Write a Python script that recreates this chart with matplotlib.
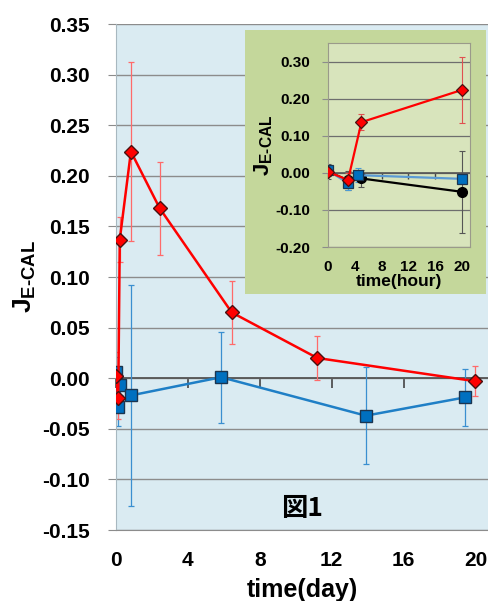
import matplotlib
matplotlib.use("Agg")
import matplotlib.pyplot as plt
from matplotlib.patches import Rectangle

plt.rcParams["font.family"] = ["Liberation Sans", "DejaVu Sans"]
plt.rcParams["font.weight"] = "bold"
plt.rcParams["axes.labelweight"] = "bold"
plt.rcParams["mathtext.fontset"] = "custom"
plt.rcParams["mathtext.bf"] = "Liberation Sans:bold"
plt.rcParams["mathtext.rm"] = "Liberation Sans:bold"

# main chart (days)
red_day = [0, 0.125, 0.21, 0.83, 2.43, 6.44, 11.2, 20.0]
red_val = [0.002, -0.020, 0.137, 0.224, 0.168, 0.065, 0.020, -0.003]
red_err = [0.024, 0.020, 0.022, 0.088, 0.046, 0.031, 0.022, 0.015]

blue_day = [0, 0.125, 0.22, 0.83, 5.85, 13.9, 19.4]
blue_val = [0.006, -0.028, -0.007, -0.017, 0.001, -0.037, -0.019]
blue_err = [0.015, 0.019, 0.010, 0.109, 0.045, 0.048, 0.028]

day_ticks = [0, 4, 8, 12, 16, 20]
y_ticks = [-0.15, -0.10, -0.05, 0.00, 0.05, 0.10, 0.15, 0.20, 0.25, 0.30, 0.35]

# inset (hours)
red_hr = [0, 3, 5, 20]
red_hr_val = [0.003, -0.019, 0.137, 0.224]
red_hr_err = [0.010, 0.020, 0.021, 0.088]

blue_hr = [0, 3, 4.5, 20]
blue_hr_val = [0.007, -0.028, -0.006, -0.016]
blue_hr_err = [0.015, 0.018, 0.018, 0.010]

black_hr = [0, 3, 5, 20]
black_hr_val = [0.004, -0.020, -0.015, -0.051]
black_hr_err = [0.020, 0.025, 0.024, 0.110]

hour_ticks = [0, 4, 8, 12, 16, 20]
inset_y_ticks = [-0.20, -0.10, 0.00, 0.10, 0.20, 0.30]

RED = "#FF0000"
BLUE = "#0070C0"
GRID = "#8C8C8C"

fig = plt.figure(figsize=(4.88, 6.01), dpi=100)
fig.patch.set_facecolor("white")

ax = fig.add_axes([0.2377, 0.1181, 0.7623, 0.8419])
ax.set_facecolor("#DAEBF2")
ax.set_xlim(0, 20.7)
ax.set_ylim(-0.15, 0.35)
ax.set_yticks(y_ticks)
ax.set_yticklabels([f"{v:.2f}" for v in y_ticks])
ax.grid(axis="y", color=GRID, lw=1.0)
ax.set_axisbelow(True)
ax.axhline(0, color="#555555", lw=1.3, zorder=1)
for s in ["top", "right"]:
    ax.spines[s].set_visible(False)
ax.spines["left"].set_color("#A8B8C0")
ax.spines["bottom"].set_color(GRID)
ax.tick_params(axis="y", length=6, color=GRID, pad=13, labelsize=15)
ax.set_xticks(day_ticks)
ax.tick_params(axis="x", length=0, pad=15, labelsize=15)

sec = ax.secondary_xaxis(0.3)
sec.set_xticks(day_ticks)
sec.tick_params(axis="x", direction="out", length=7, width=1.2, color="#444444", labelbottom=False)
sec.spines["bottom"].set_visible(False)

ax.errorbar(blue_day, blue_val, yerr=blue_err, fmt="none", ecolor="#3A8FD0",
            elinewidth=0.9, capsize=2.5, capthick=0.9, zorder=2)
ax.errorbar(red_day, red_val, yerr=red_err, fmt="none", ecolor="#FF6A6A",
            elinewidth=0.9, capsize=2.5, capthick=0.9, zorder=2)
ax.plot(blue_day, blue_val, color="#1F7FC6", lw=1.8, marker="s", ms=8,
        mfc=BLUE, mec="#1B3550", mew=1.0, zorder=3)
ax.plot(red_day, red_val, color=RED, lw=1.8, marker="D", ms=7.5,
        mfc=RED, mec="#4A1010", mew=1.0, zorder=4)

ax.set_xlabel("time(day)", fontsize=18, labelpad=6)
ax.set_ylabel(r"$\mathbf{J}_{\mathbf{E‐CAL}}$", fontsize=19)
ax.yaxis.set_label_coords(-0.21, 0.5)

ax.text(0.5, 0.042, "図1", transform=ax.transAxes, ha="center", va="center",
        fontsize=19, fontweight="bold", family=["Noto Sans CJK JP", "DejaVu Sans"])

# inset panel
fig.add_artist(Rectangle((0.502, 0.511), 0.494, 0.439, transform=fig.transFigure,
                         facecolor="#C4D79B", edgecolor="none", zorder=1))

ins = fig.add_axes([0.672, 0.589, 0.291, 0.339], zorder=2)
ins.set_facecolor("#D8E4BC")
ins.set_xlim(0, 21.2)
ins.set_ylim(-0.2, 0.35)
ins.set_yticks(inset_y_ticks)
ins.set_yticklabels([f"{v:.2f}" for v in inset_y_ticks])
ins.grid(axis="y", color="#6E6E6E", lw=0.9)
ins.set_axisbelow(True)
ins.axhline(0, color="#555555", lw=1.2, zorder=1)
for s in ins.spines.values():
    s.set_color("#9A9A8A")
ins.tick_params(axis="y", length=4, color=GRID, pad=9, labelsize=11)
ins.set_xticks(hour_ticks)
ins.tick_params(axis="x", length=0, pad=9, labelsize=11)

sec2 = ins.secondary_xaxis(0.2 / 0.55)
sec2.set_xticks(hour_ticks)
sec2.tick_params(axis="x", direction="out", length=4, width=1.0, color="#444444", labelbottom=False)
sec2.spines["bottom"].set_visible(False)

ins.errorbar(black_hr, black_hr_val, yerr=black_hr_err, fmt="none", ecolor="#555555",
             elinewidth=0.8, capsize=2.5, capthick=0.8, zorder=2)
ins.errorbar(blue_hr, blue_hr_val, yerr=blue_hr_err, fmt="none", ecolor="#4A9BD8",
             elinewidth=0.8, capsize=2.5, capthick=0.8, zorder=2)
ins.errorbar(red_hr, red_hr_val, yerr=red_hr_err, fmt="none", ecolor="#E05050",
             elinewidth=0.8, capsize=2.5, capthick=0.8, zorder=2)
ins.plot(black_hr, black_hr_val, color="black", lw=1.6, marker="o", ms=7,
         mfc="black", mec="black", zorder=3)
ins.plot(blue_hr, blue_hr_val, color="#5B9BD5", lw=1.6, marker="s", ms=6.5,
         mfc=BLUE, mec="#1B3550", mew=0.9, zorder=4)
ins.plot(red_hr, red_hr_val, color=RED, lw=1.6, marker="D", ms=6.5,
         mfc=RED, mec="#4A1010", mew=0.9, zorder=5)

ins.set_xlabel("time(hour)", fontsize=12.5, labelpad=0)
ins.set_ylabel(r"$\mathbf{J}_{\mathbf{E‐CAL}}$", fontsize=16)
ins.yaxis.set_label_coords(-0.37, 0.5)

fig.savefig("out.png", dpi=100, facecolor="white")
